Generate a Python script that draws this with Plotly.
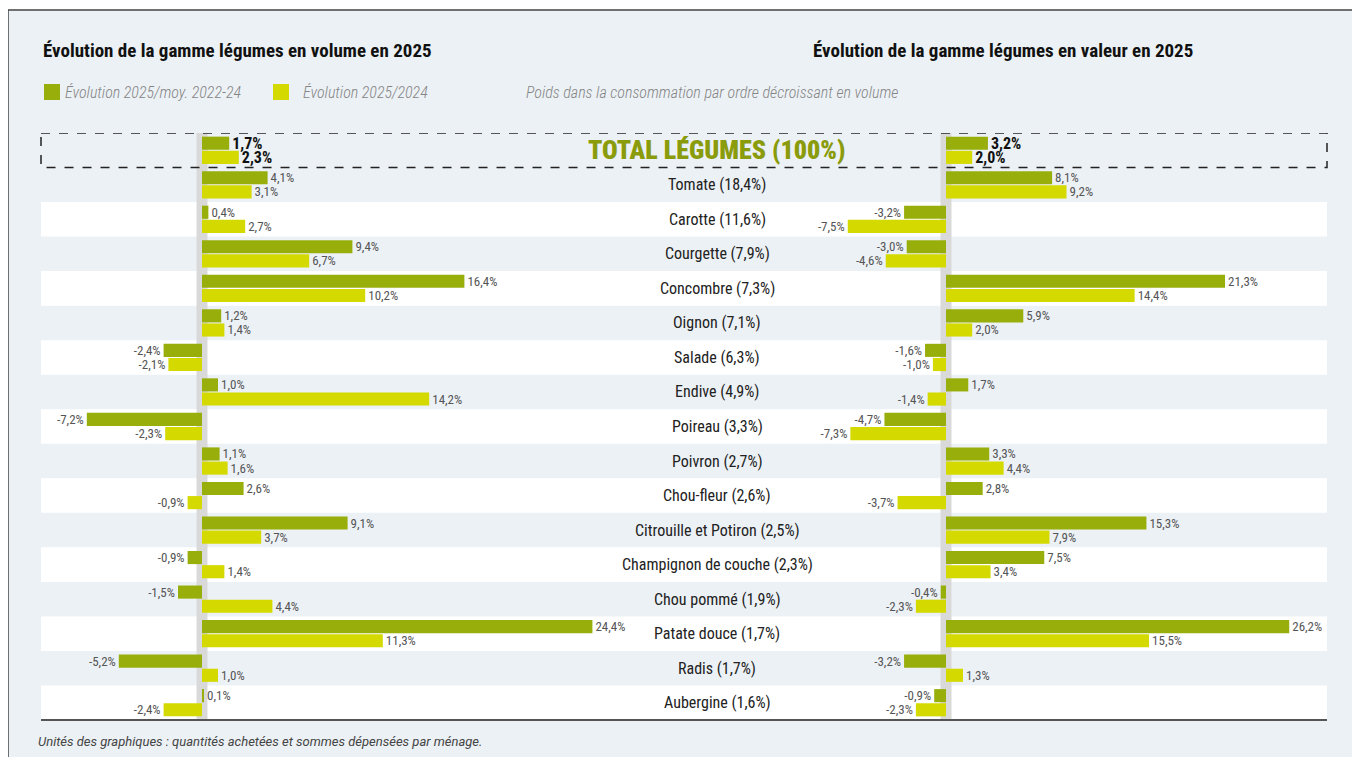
import plotly.graph_objects as go

# ---------------- data ----------------
categories = [
    "TOTAL LÉGUMES (100%)", "Tomate (18,4%)", "Carotte (11,6%)", "Courgette (7,9%)",
    "Concombre (7,3%)", "Oignon (7,1%)", "Salade (6,3%)", "Endive (4,9%)",
    "Poireau (3,3%)", "Poivron (2,7%)", "Chou-fleur (2,6%)",
    "Citrouille et Potiron (2,5%)", "Champignon de couche (2,3%)",
    "Chou pommé (1,9%)", "Patate douce (1,7%)", "Radis (1,7%)", "Aubergine (1,6%)",
]
# Volume: évolution 2025 / moy. 2022-24 and 2025 / 2024 (%)
vol_vs_moy = [1.7, 4.1, 0.4, 9.4, 16.4, 1.2, -2.4, 1.0, -7.2, 1.1, 2.6, 9.1, -0.9, -1.5, 24.4, -5.2, 0.1]
vol_vs_2024 = [2.3, 3.1, 2.7, 6.7, 10.2, 1.4, -2.1, 14.2, -2.3, 1.6, -0.9, 3.7, 1.4, 4.4, 11.3, 1.0, -2.4]
# Valeur
val_vs_moy = [3.2, 8.1, -3.2, -3.0, 21.3, 5.9, -1.6, 1.7, -4.7, 3.3, 2.8, 15.3, 7.5, -0.4, 26.2, -3.2, -0.9]
val_vs_2024 = [2.0, 9.2, -7.5, -4.6, 14.4, 2.0, -1.0, -1.4, -7.3, 4.4, -3.7, 7.9, 3.4, -2.3, 15.5, 1.3, -2.3]

series_names = ["Évolution 2025/moy. 2022-24", "Évolution 2025/2024"]
title_left = "Évolution de la gamme légumes en volume en 2025"
title_right = "Évolution de la gamme légumes en valeur en 2025"
subtitle = "Poids dans la consommation par ordre décroissant en volume"
footnote = "Unités des graphiques : quantités achetées et sommes dépensées par ménage."

# ---------------- style ----------------
DARK = "#97AE0B"
LIGHT = "#D4D900"
BG = "#ECF1F5"
GREEN_TXT = "#8A9B0C"
COND = "Roboto Condensed, DejaVu Sans Condensed, sans-serif"
REG = "Roboto, Liberation Sans, sans-serif"

# page body has an 8px margin: figure occupies viewport x 8..1360, y 8..757
OFF = 8
VW, VH = 1360, 757
PL, PR, PT, PB = 41, 1327, 133, 720          # plot area in viewport pixels
W, H = VW - OFF, VH - OFF
PW, PH = PR - PL, PB - PT


def px_x(p):
    return (p - PL) / PW


def px_y(p):
    return (PB - p) / PH


def fmt(v):
    return f"{v:.1f}".replace(".", ",") + "%"


def labels(vals):
    return [f"<b>{fmt(v)}</b>" if i == 0 else fmt(v) for i, v in enumerate(vals)]


def sizes(vals):
    return [16 if i == 0 else 13 for i in range(len(vals))]


def colors(vals):
    return ["#111111" if i == 0 else "#555555" for i in range(len(vals))]


fig = go.Figure()

BAR_W = 0.38
for xa, vals_a, vals_b in (("x", vol_vs_moy, vol_vs_2024), ("x2", val_vs_moy, val_vs_2024)):
    for name, vals, col, off in ((series_names[0], vals_a, DARK, -0.395), (series_names[1], vals_b, LIGHT, 0.015)):
        fig.add_trace(go.Bar(
            x=vals, y=categories, orientation="h", name=name,
            marker=dict(color=col, line=dict(width=0)),
            width=BAR_W, offset=off,
            text=labels(vals), textposition="outside",
            textfont=dict(family=COND, size=sizes(vals), color=colors(vals)),
            constraintext="none", cliponaxis=False,
            xaxis=xa, yaxis="y", showlegend=False, hoverinfo="x+y",
        ))

shapes = []
# outer panel
shapes.append(dict(type="rect", xref="paper", yref="paper",
                   x0=px_x(8), x1=px_x(1380), y0=px_y(10), y1=px_y(780),
                   fillcolor=BG, line=dict(color="#444444", width=1.5), layer="below"))
# white row bands
for i in range(2, len(categories), 2):
    shapes.append(dict(type="rect", xref="paper", yref="y", x0=0, x1=1,
                       y0=i - 0.5, y1=i + 0.5, fillcolor="white",
                       line=dict(width=0), layer="below"))
# grey zero bands
shapes.append(dict(type="rect", xref="x", yref="paper", x0=-0.34, x1=0.34, y0=0, y1=1,
                   fillcolor="#D9D9D9", line=dict(width=0), layer="below"))
shapes.append(dict(type="rect", xref="x2", yref="paper", x0=-0.42, x1=0.42, y0=0, y1=1,
                   fillcolor="#D9D9D9", line=dict(width=0), layer="below"))
# dashed total box
shapes.append(dict(type="rect", xref="paper", yref="y", x0=0, x1=1, y0=-0.5, y1=0.5,
                   fillcolor="rgba(0,0,0,0)", line=dict(color="#222222", width=1.5, dash="dash"),
                   layer="above"))
# bottom rule
shapes.append(dict(type="line", xref="paper", yref="paper", x0=0, x1=1, y0=0, y1=0,
                   line=dict(color="#555555", width=2), layer="above"))
# legend swatches
for x0, x1, col in ((44, 60, DARK), (273, 289, LIGHT)):
    shapes.append(dict(type="rect", xref="paper", yref="paper",
                       x0=px_x(x0), x1=px_x(x1), y0=px_y(100), y1=px_y(84),
                       fillcolor=col, line=dict(width=0)))

annotations = []


def note(text, x, y, size, color, family, xanchor="left", yref="paper", yval=None, weight=None):
    f = dict(size=size, color=color, family=family)
    if weight:
        f["weight"] = weight
    annotations.append(dict(
        text=text, xref="paper", yref=yref, x=px_x(x),
        y=px_y(y) if yval is None else yval,
        xanchor=xanchor, yanchor="middle", showarrow=False, font=f))


note(f"<b>{title_left}</b>", 41, 50, 19, "#111111", COND)
note(f"<b>{title_right}</b>", 811, 50, 19, "#111111", COND)
note(f"<i>{series_names[0]}</i>", 63, 93, 16, "#858585", COND, weight=300)
note(f"<i>{series_names[1]}</i>", 301, 93, 16, "#858585", COND, weight=300)
note(f"<i>{subtitle}</i>", 524, 93, 16, "#858585", COND, weight=300)
note(f"<i>{footnote}</i>", 36, 741, 13, "#444444", REG)

# category labels
for i, c in enumerate(categories):
    if i == 0:
        note(c, 717, 0, 26, GREEN_TXT, COND, xanchor="center", yref="y", yval=c, weight=900)
    else:
        note(c, 717, 0, 16, "#222222", COND, xanchor="center", yref="y", yval=c)

fig.update_layout(
    width=W, height=H,
    margin=dict(l=PL - OFF, r=VW - PR, t=PT - OFF, b=VH - PB, pad=0),
    paper_bgcolor="white", plot_bgcolor="rgba(0,0,0,0)",
    barmode="overlay",
    shapes=shapes, annotations=annotations,
    xaxis=dict(domain=[0, px_x(680)], range=[(41 - 202) / 16.0, (680 - 202) / 16.0],
               visible=False, fixedrange=True),
    xaxis2=dict(domain=[px_x(720), 1], range=[(720 - 946) / 13.1, (1327 - 946) / 13.1],
                visible=False, anchor="y", fixedrange=True),
    yaxis=dict(type="category", categoryorder="array", categoryarray=categories,
               range=[len(categories) - 0.5, -0.5], visible=False, fixedrange=True),
    font=dict(family=COND),
)

fig.write_html("out.html")
